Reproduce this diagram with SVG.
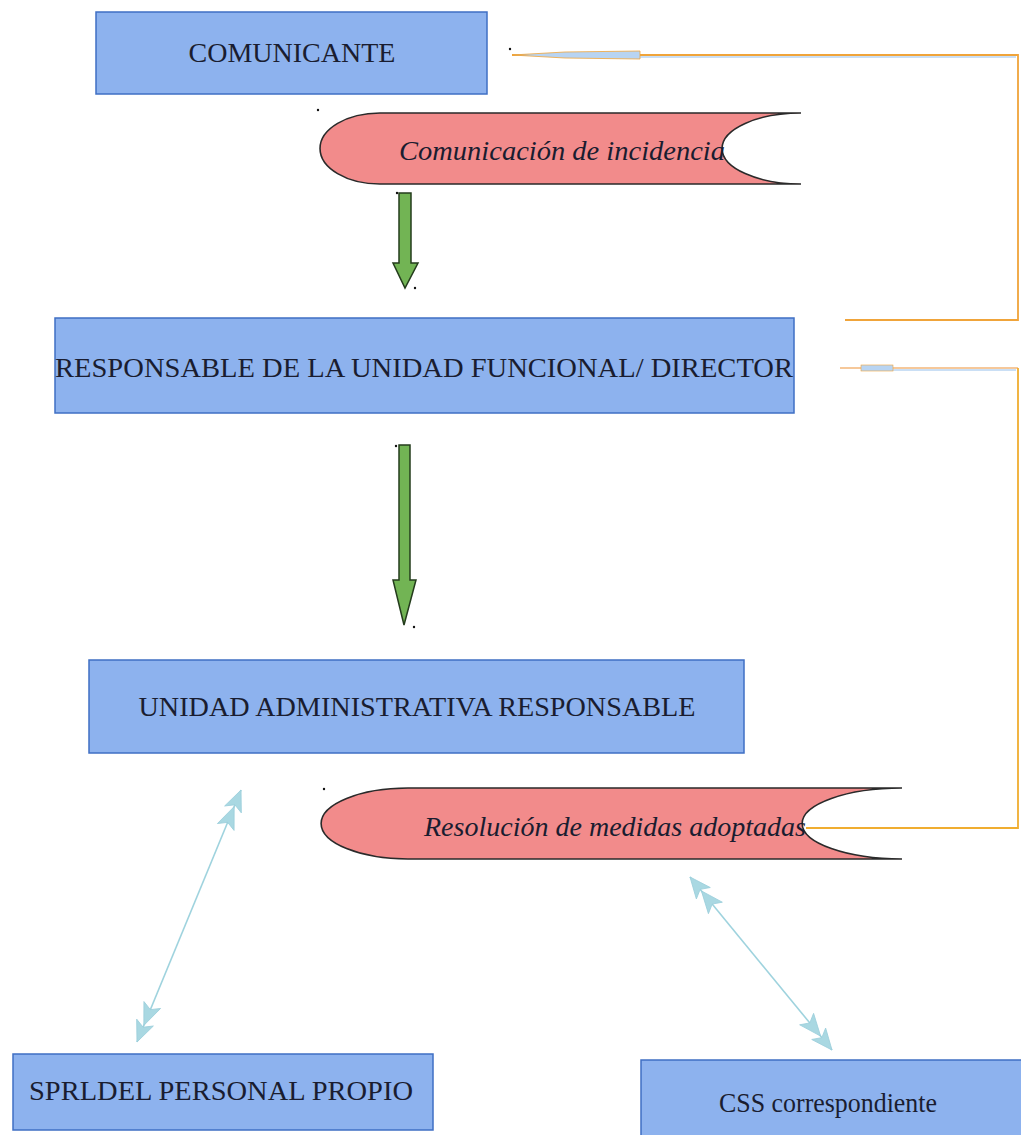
<svg xmlns="http://www.w3.org/2000/svg" width="1021" height="1135" viewBox="0 0 1021 1135">
<style>
.box{fill:#8db2ee;stroke:#3f6fc4;stroke-width:1.5}
.lbl{font-family:"Liberation Serif","Times New Roman",serif;font-size:28px;fill:#1a1d30;text-anchor:middle}
.itl{font-family:"Liberation Serif","Times New Roman",serif;font-size:28px;font-style:italic;fill:#1a1d30}
.ban{fill:#f28b8b;stroke:#2a2a2a;stroke-width:1.6}
.garrow{fill:#72b454;stroke:#243c1c;stroke-width:1.5}
.org{fill:none;stroke:#f0a43a;stroke-width:1.8}
.pale{fill:none;stroke:#f6c89a;stroke-width:1.8}
.blu{fill:none;stroke:#b8d4f2;stroke-width:1.4}
.dbl{fill:none;stroke:#9fd3de;stroke-width:1.6;marker-start:url(#dh);marker-end:url(#dh)}
.dot{fill:#111}
</style>
<defs>
<marker id="dh" markerUnits="userSpaceOnUse" markerWidth="46" markerHeight="24" viewBox="-44 -12 46 24" refX="0" refY="0" orient="auto-start-reverse">
<path d="M0,0 L-21,-9 L-16,0 L-21,9 Z M-18,0 L-40,-9 L-35,0 L-40,9 Z" fill="#a9d8e2" stroke="#9ccfdb" stroke-width="0.8"/>
</marker>
</defs>
<rect width="1021" height="1135" fill="#ffffff"/>

<g id="connectors">
  <path class="org" d="M512,55 H1018 V320 H845"/>
  <path class="blu" d="M640,57 H1016"/>
  <path d="M512,55 L565,52 L640,51 L640,59 L565,58 Z" fill="#b8d4f2" stroke="#f0a43a" stroke-width="0.8"/>
  <path class="pale" d="M840,368 H1018"/>
  <path class="blu" d="M893,370 H1016"/>
  <rect x="861" y="365" width="32" height="6" fill="#b8d4f2" stroke="#f0a43a" stroke-width="0.6"/>
  <path class="org" d="M806,828 H1018 V368" style="stroke:#f0ad30"/>
  <path class="garrow" d="M399,193 H411 V263 H418 L405,288 L393,263 H399 Z"/>
  <path class="garrow" d="M399,445 H410 V580 H416 L404,625 L393,580 H399 Z"/>
  <line class="dbl" x1="137" y1="1042" x2="241" y2="790"/>
  <line class="dbl" x1="690" y1="877" x2="832" y2="1050"/>
</g>

<g id="comunicante">
  <rect class="box" x="96" y="12" width="391" height="82"/>
  <text class="lbl" x="292" y="62">COMUNICANTE</text>
</g>

<g id="comunicacion">
  <path class="ban" d="M380,113 H801 A79,35.5 0 0 0 801,184 H380 A60,35.5 0 0 1 380,113 Z"/>
  <text class="itl" x="399" y="160" textLength="326" lengthAdjust="spacingAndGlyphs">Comunicación de incidencia</text>
</g>

<g id="responsable">
  <rect class="box" x="55" y="318" width="739" height="95"/>
  <text class="lbl" x="424" y="377" textLength="738" lengthAdjust="spacingAndGlyphs">RESPONSABLE DE LA UNIDAD FUNCIONAL/ DIRECTOR</text>
</g>

<g id="unidad">
  <rect class="box" x="89" y="660" width="655" height="93"/>
  <text class="lbl" x="417" y="716" textLength="557" lengthAdjust="spacingAndGlyphs">UNIDAD ADMINISTRATIVA RESPONSABLE</text>
</g>

<g id="resolucion">
  <path class="ban" d="M408,788 H902 A100,35.5 0 0 0 902,859 H408 A87,35.5 0 0 1 408,788 Z"/>
  <text class="itl" x="424" y="836" textLength="382" lengthAdjust="spacingAndGlyphs">Resolución de medidas adoptadas</text>
</g>

<g id="sprl">
  <rect class="box" x="13" y="1054" width="420" height="76"/>
  <text class="lbl" x="221" y="1100" textLength="384" lengthAdjust="spacingAndGlyphs">SPRLDEL PERSONAL PROPIO</text>
</g>

<g id="css">
  <rect class="box" x="641" y="1060" width="400" height="90"/>
  <text class="lbl" x="828" y="1112" textLength="218" lengthAdjust="spacingAndGlyphs">CSS correspondiente</text>
</g>

<g id="marks">
  <circle class="dot" cx="318" cy="110" r="1.2"/>
  <circle class="dot" cx="397" cy="193" r="1.2"/>
  <circle class="dot" cx="415" cy="288" r="1.2"/>
  <circle class="dot" cx="396" cy="446" r="1.2"/>
  <circle class="dot" cx="414" cy="627" r="1.2"/>
  <circle class="dot" cx="324" cy="789" r="1.2"/>
  <circle class="dot" cx="510" cy="49" r="1.2"/>
</g>
</svg>
